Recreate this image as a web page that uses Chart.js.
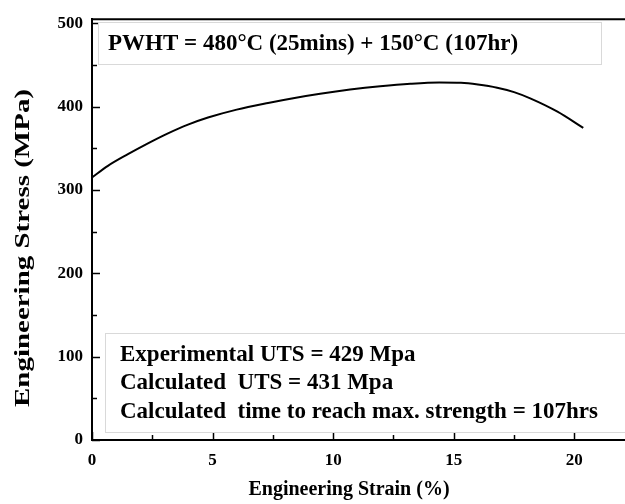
<!DOCTYPE html>
<html>
<head>
<meta charset="utf-8">
<script src="https://cdn.jsdelivr.net/npm/chart.js@4/dist/chart.umd.min.js"></script>
<style>
  body { margin: 0; background: #fff; }
  #wrap { width: 625px; height: 504px; }
</style>
</head>
<body>
<div id="wrap"><canvas id="curva" width="625" height="504"></canvas></div>
<script>
// strain (%) and stress (MPa)
const strain = [0, 0.66, 1.49, 2.32, 3.15, 3.98, 4.81, 6.0, 7.3, 8.4, 9.46, 10.7, 11.95, 13.2, 14.4, 15.3, 16.0, 16.8, 17.5, 18.17, 19.3, 20.37];
const stress = [315, 329, 343, 356, 368, 378.5, 387, 396.5, 404.5, 410.5, 415.5, 420.5, 424.5, 427.5, 429, 428.6, 426.5, 422.7, 417.5, 410, 394, 374.5];

const xTicks = [0, 5, 10, 15, 20];
const yTicks = [0, 100, 200, 300, 400, 500];

const titulo = "PWHT = 480°C (25mins) + 150°C (107hr)";
const notas = [
  "Experimental UTS = 429 Mpa",
  "Calculated  UTS = 431 Mpa",
  "Calculated  time to reach max. strength = 107hrs"
];

const serif = "'Liberation Serif', 'Times New Roman', serif";

// ticks hacia adentro, borde superior, cuadros de texto y titulos de ejes
const extras = {
  id: "extras",
  afterDraw(chart) {
    const ctx = chart.ctx;
    const area = chart.chartArea;
    const sx = chart.scales.x;
    const sy = chart.scales.y;
    ctx.save();
    ctx.strokeStyle = "#000";
    ctx.lineWidth = 1.5;

    // ticks eje x
    for (let v = 0; v <= sx.max; v += 2.5) {
      const px = Math.round(sx.getPixelForValue(v)) + 0.5;
      const len = v % 5 === 0 ? 8 : 5;
      ctx.beginPath();
      ctx.moveTo(px, area.bottom);
      ctx.lineTo(px, area.bottom - len);
      ctx.stroke();
    }
    // ticks eje y
    for (let v = 0; v <= sy.max; v += 50) {
      const py = Math.round(sy.getPixelForValue(v)) + 0.5;
      const len = v % 100 === 0 ? 8 : 5;
      ctx.beginPath();
      ctx.moveTo(area.left, py);
      ctx.lineTo(area.left + len, py);
      ctx.stroke();
    }
    // borde superior
    ctx.lineWidth = 2;
    ctx.beginPath();
    ctx.moveTo(area.left, area.top);
    ctx.lineTo(chart.width, area.top);
    ctx.stroke();

    // cuadro del tratamiento
    ctx.fillStyle = "#fff";
    ctx.strokeStyle = "#d9d9d9";
    ctx.lineWidth = 1;
    ctx.fillRect(98, 22, 503, 42);
    ctx.strokeRect(98.5, 22.5, 503, 42);
    ctx.fillStyle = "#000";
    ctx.font = "bold 23px " + serif;
    ctx.textBaseline = "middle";
    ctx.textAlign = "left";
    ctx.fillText(titulo, 108, 44);

    // cuadro de resultados
    ctx.fillStyle = "#fff";
    ctx.fillRect(105, 333, 530, 99);
    ctx.strokeRect(105.5, 333.5, 530, 99);
    ctx.fillStyle = "#000";
    ctx.font = "bold 23px " + serif;
    notas.forEach((t, i) => ctx.fillText(t, 120, 355 + i * 28.5));

    // titulos de ejes
    ctx.font = "bold 20px " + serif;
    ctx.textAlign = "center";
    ctx.fillText("Engineering Strain (%)", 349, 490);

    // el titulo vertical va estirado a lo largo
    ctx.font = "bold 21px " + serif;
    const largo = ctx.measureText("Engineering Stress (MPa)").width;
    ctx.translate(24, 248);
    ctx.rotate(-Math.PI / 2);
    ctx.scale(318 / largo, 1);
    ctx.fillText("Engineering Stress (MPa)", 0, 0);
    ctx.restore();
  }
};

const ctx = document.getElementById("curva").getContext("2d");
new Chart(ctx, {
  type: "line",
  data: {
    datasets: [
      {
        data: strain.map((s, i) => ({ x: s, y: stress[i] })),
        borderColor: "#000",
        borderWidth: 2,
        pointRadius: 0,
        cubicInterpolationMode: "monotone",
        fill: false,
      },
    ],
  },
  options: {
    responsive: false,
    animation: false,
    layout: {
      padding: { left: 0, right: 0, top: 11, bottom: 0 },
    },
    scales: {
      x: {
        type: "linear",
        min: 0,
        max: 22.1,
        afterFit: (s) => { s.height = 64; },
        afterBuildTicks: (s) => { s.ticks = xTicks.map((v) => ({ value: v })); },
        grid: { display: false, drawTicks: false },
        border: { display: true, color: "#000", width: 2 },
        ticks: {
          padding: 10,
          color: "#000",
          maxRotation: 0,
          font: { size: 17, weight: "bold", family: serif },
        },
      },
      y: {
        min: 0,
        max: 505,
        afterFit: (s) => { s.width = 92; },
        afterBuildTicks: (s) => { s.ticks = yTicks.map((v) => ({ value: v })); },
        grid: { display: false, drawTicks: false },
        border: { display: true, color: "#000", width: 2 },
        ticks: {
          padding: 9,
          color: "#000",
          font: { size: 17, weight: "bold", family: serif },
        },
      },
    },
    plugins: {
      legend: { display: false },
      tooltip: { enabled: false },
    },
  },
  plugins: [extras],
});
</script>
</body>
</html>
